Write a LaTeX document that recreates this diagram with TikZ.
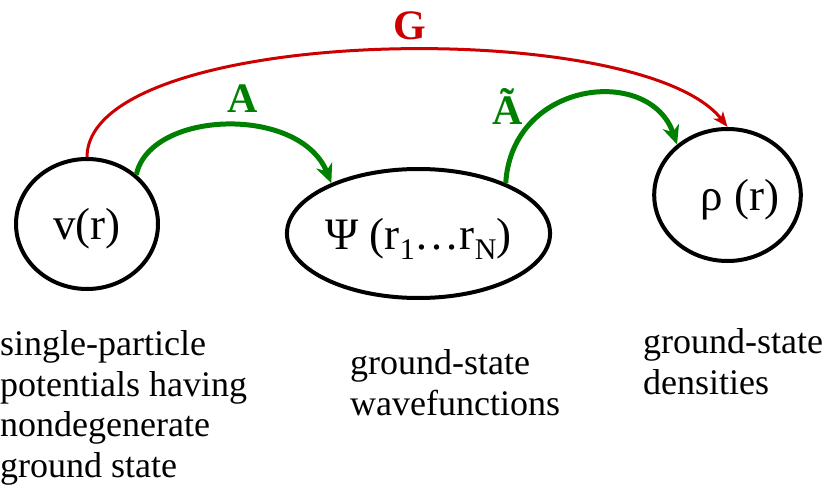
\documentclass[tikz,border=0pt]{standalone}
\usepackage{fontspec}
\setmainfont{Liberation Serif}
\usepackage{tikz}
\usetikzlibrary{arrows.meta,shapes.geometric}
\definecolor{MapRed}{HTML}{CC0000}
\definecolor{MapGreen}{HTML}{008000}
\newcommand{\lowidx}[1]{\raisebox{-10pt}{\fontsize{30}{30}\selectfont #1}}

\begin{document}
\begin{tikzpicture}[x=1pt,y=-1pt,
    oval/.style={draw,ellipse,line width=4pt,inner sep=0pt,text depth=0pt,
                 font=\fontsize{45}{54}\selectfont},
    caption/.style={align=left,anchor=base west,inner sep=0pt,
                    font=\fontsize{36}{40.5}\selectfont},
    maplbl/.style={anchor=base,inner sep=0pt,font=\bfseries\fontsize{42}{50}\selectfont},
    garr/.style={-{Stealth[length=19pt,width=17pt,inset=6pt]},line width=5pt,MapGreen},
    rarr/.style={-{Stealth[length=15pt,width=12pt,inset=4pt]},line width=3pt,MapRed}]
  \useasboundingbox (0,0) rectangle (827,497);
  % the three sets
  \node[oval,minimum width=142pt,minimum height=130pt] (pot) at (87,224) {v(r)};
  \node[oval,minimum width=253pt,minimum height=129pt] (wf) at (418.5,233.5)
       {Ψ (r\lowidx{1}…r\lowidx{N})};
  \node[oval,minimum width=141pt,minimum height=132pt] (dens) at (727.5,195)
       {\hspace*{25pt}ρ (r)};
  % maps between them
  \draw[rarr] (pot.north) .. controls (88,25) and (640,15) .. (dens.north);
  \draw[garr] (pot.45) .. controls (150,110) and (300,105) .. (wf.150);
  \draw[garr] (wf.30) .. controls (512,80) and (650,65) .. (dens.135);
  \node[maplbl,MapRed] (glbl) at (410,40) {G};
  \node[maplbl,MapGreen] (albl) at (243,113) {A};
  \node[maplbl,MapGreen] (atlbl) at (508,125) {Ã};
  % captions (base = last line)
  \node[caption] (potcap) at (0,477)
       {single-particle\\potentials having\\nondegenerate\\ground state};
  \node[caption] (wfcap) at (350,415) {ground-state\\wavefunctions};
  \node[caption] (denscap) at (643,394) {ground-state\\densities};
\end{tikzpicture}
\end{document}
